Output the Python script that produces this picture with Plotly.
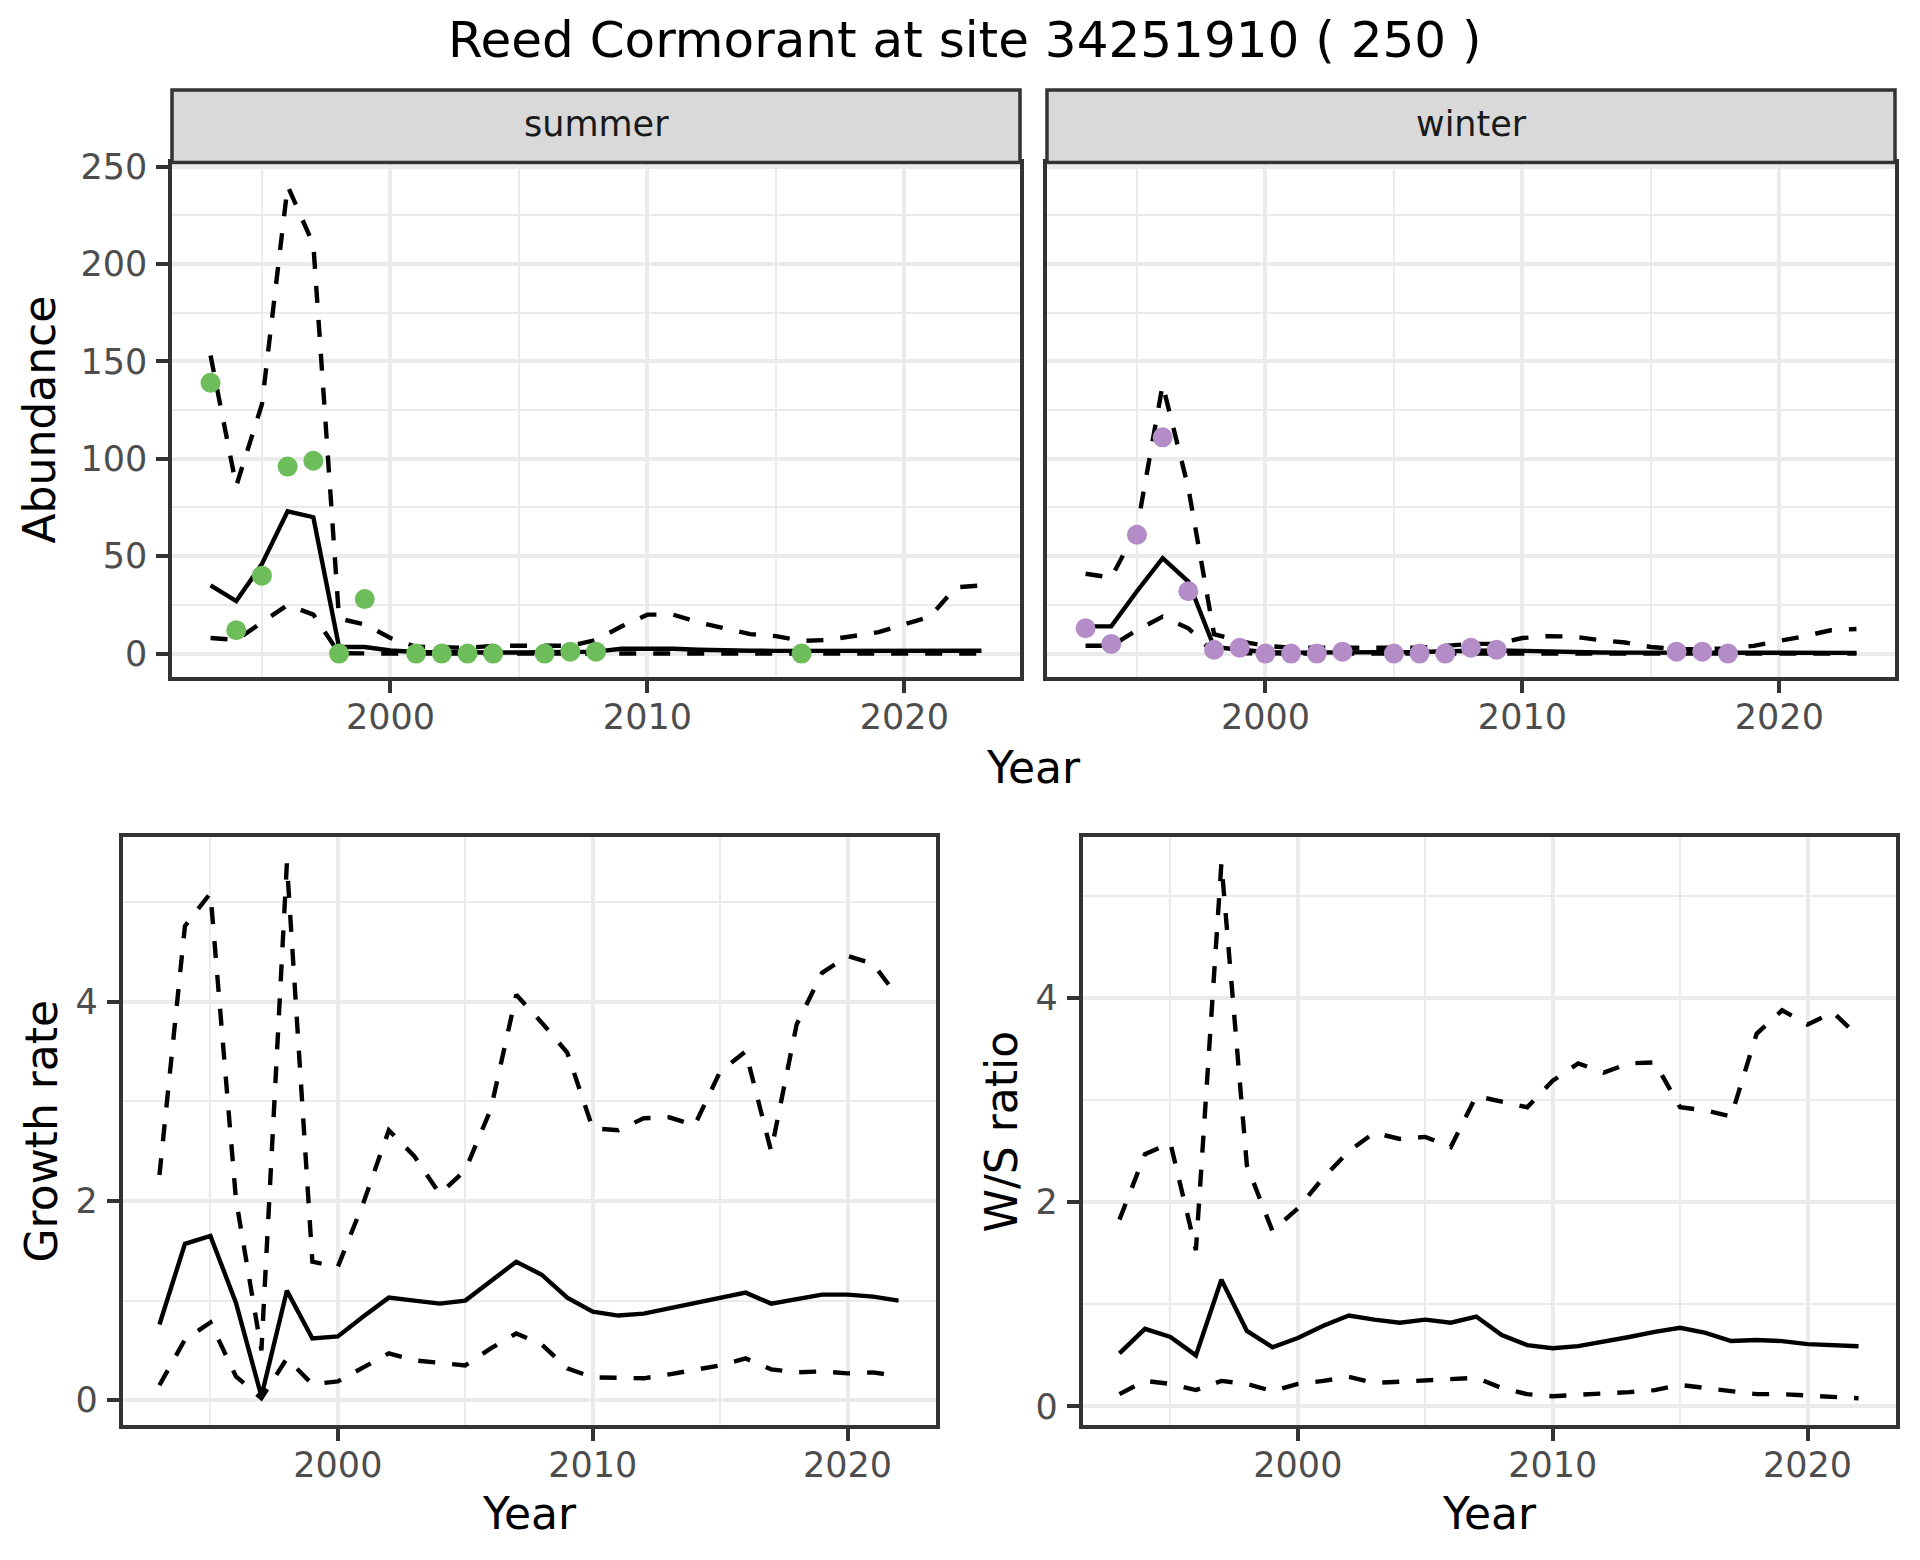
import plotly.graph_objects as go

W, H = 1920, 1560

# ---------------- data ----------------
season_years = list(range(1993, 2024))
summer_mean = [35, 27, 46, 73, 70, 3.4, 3.4, 1.6, 0.8, 0.6, 0.6, 0.6, 0.6, 0.6, 0.7, 1.0,
               2.5, 2.7, 2.5, 2.0, 1.6, 1.5, 1.4, 1.4, 1.4, 1.4, 1.4, 1.4, 1.5, 1.5, 1.5]
summer_upper = [153, 86, 128, 240, 210, 18, 15, 8, 3.5, 3, 3, 4, 4, 3.5, 4, 7,
                14, 20, 20, 16, 13, 10, 9, 6.5, 7, 9, 11, 15, 19, 34, 35]
summer_lower = [8, 7, 16, 25, 20, 0.2, 0.1, 0.1, 0, 0, 0, 0, 0, 0, 0, 0,
                0, 0, 0, 0, 0, 0, 0, 0, 0, 0, 0, 0, 0, 0, 0]
winter_mean = [14, 14, 32, 49, 37, 3.4, 2, 0.8, 0.5, 0.5, 0.5, 0.5, 0.6, 0.8, 1.2, 1.6,
               1.6, 1.4, 1.0, 0.8, 0.6, 0.5, 0.5, 0.5, 0.5, 0.5, 0.4, 0.4, 0.4, 0.4, 0.4]
winter_upper = [41, 39, 64, 138, 85, 10, 6.4, 4, 3, 3, 3, 3, 3, 3, 4, 5,
                5, 8, 9, 8.7, 7, 5.7, 3.4, 2.3, 2.3, 2.7, 4, 6.4, 9, 12, 12.6]
winter_lower = [4, 4, 12, 19, 13, 0.3, 0.2, 0, 0, 0, 0, 0, 0, 0, 0, 0,
                0, 0, 0, 0, 0, 0, 0, 0, 0, 0, 0, 0, 0, 0, 0]

summer_obs_years = [1993, 1994, 1995, 1996, 1997, 1998, 1999, 2001, 2002, 2003, 2004,
                    2006, 2007, 2008, 2016]
summer_obs = [139, 12, 40, 96, 99, 0, 28, 0, 0, 0, 0, 0, 1, 1, 0]
winter_obs_years = [1993, 1994, 1995, 1996, 1997, 1998, 1999, 2000, 2001, 2002, 2003,
                    2005, 2006, 2007, 2008, 2009, 2016, 2017, 2018]
winter_obs = [13, 5, 61, 111, 32, 2, 3, 0, 0, 0, 1, 0, 0, 0, 3, 2, 1, 1, 0]

trend_years = list(range(1993, 2023))
growth_mean = [0.76, 1.57, 1.65, 0.98, 0.04, 1.10, 0.62, 0.64, 0.84, 1.03, 1.00, 0.97,
               1.00, 1.19, 1.39, 1.26, 1.03, 0.89, 0.85, 0.87, 0.92, 0.97, 1.03, 1.08,
               0.97, 1.01, 1.06, 1.06, 1.04, 1.00]
growth_upper = [2.26, 4.76, 5.09, 2.02, 0.50, 5.39, 1.39, 1.34, 1.98, 2.71, 2.45, 2.07,
                2.31, 2.92, 4.07, 3.79, 3.49, 2.73, 2.71, 2.83, 2.84, 2.76, 3.30, 3.50,
                2.50, 3.77, 4.29, 4.46, 4.38, 4.04]
growth_lower = [0.15, 0.61, 0.78, 0.24, 0.02, 0.42, 0.16, 0.19, 0.33, 0.47, 0.40, 0.38,
                0.35, 0.52, 0.67, 0.56, 0.32, 0.23, 0.22, 0.22, 0.26, 0.31, 0.35, 0.42,
                0.31, 0.28, 0.29, 0.27, 0.28, 0.24]
ratio_mean = [0.52, 0.76, 0.68, 0.50, 1.24, 0.74, 0.58, 0.67, 0.79, 0.89, 0.85, 0.82,
              0.85, 0.82, 0.88, 0.70, 0.60, 0.57, 0.59, 0.63, 0.68, 0.73, 0.77, 0.72,
              0.64, 0.65, 0.64, 0.61, 0.60, 0.59]
ratio_upper = [1.83, 2.47, 2.58, 1.53, 5.32, 2.36, 1.72, 1.94, 2.24, 2.50, 2.68, 2.62,
               2.64, 2.54, 3.04, 2.99, 2.93, 3.19, 3.36, 3.27, 3.36, 3.37, 2.93, 2.90,
               2.84, 3.65, 3.88, 3.74, 3.86, 3.62]
ratio_lower = [0.12, 0.25, 0.22, 0.16, 0.25, 0.22, 0.15, 0.22, 0.25, 0.29, 0.23, 0.24,
               0.25, 0.26, 0.28, 0.18, 0.12, 0.10, 0.11, 0.13, 0.14, 0.16, 0.21, 0.18,
               0.15, 0.12, 0.12, 0.11, 0.09, 0.08]

year_ticks = [2000, 2010, 2020]
abundance_ticks = [0, 50, 100, 150, 200, 250]
rate_ticks = [0, 2, 4]

title_text = "Reed Cormorant at site 34251910 ( 250 )"
facet_labels = ["summer", "winter"]

# ---------------- style ----------------
FONT = "DejaVu Sans"
LW = 4.4
DASH = "17px,17px"
GREEN = "#6DBD5A"
PURPLE = "#B48DC8"
GRID = "#EBEBEB"
BORDER = "#333333"
OFF = 8  # page body margin compensation (px)


def fx(p):
    return (p - OFF) / W


def fy(p):
    return 1 - (p - OFF) / H


def expand(vals, mult=0.05):
    lo, hi = min(vals), max(vals)
    pad = (hi - lo) * mult
    return [lo - pad, hi + pad]


fig = go.Figure()


def add_band(xs, mean, lower, upper, xa, ya):
    for vals, dash in ((lower, DASH), (upper, DASH), (mean, "solid")):
        fig.add_trace(go.Scatter(x=xs, y=vals, mode="lines", xaxis=xa, yaxis=ya,
                                 line=dict(color="black", width=LW, dash=dash),
                                 showlegend=False, hoverinfo="skip"))


add_band(season_years, summer_mean, summer_lower, summer_upper, "x", "y")
fig.add_trace(go.Scatter(x=summer_obs_years, y=summer_obs, mode="markers", xaxis="x", yaxis="y",
                         marker=dict(color=GREEN, size=20), showlegend=False))
add_band(season_years, winter_mean, winter_lower, winter_upper, "x2", "y2")
fig.add_trace(go.Scatter(x=winter_obs_years, y=winter_obs, mode="markers", xaxis="x2", yaxis="y2",
                         marker=dict(color=PURPLE, size=20), showlegend=False))
add_band(trend_years, growth_mean, growth_lower, growth_upper, "x3", "y3")
add_band(trend_years, ratio_mean, ratio_lower, ratio_upper, "x4", "y4")

season_range = expand(season_years)
trend_range = expand(trend_years)
abund_range = expand(summer_mean + summer_upper + summer_lower + summer_obs +
                     winter_mean + winter_upper + winter_lower + winter_obs)
growth_range = expand(growth_mean + growth_upper + growth_lower)
ratio_range = expand(ratio_mean + ratio_upper + ratio_lower)


def xaxis(domain, rng, anchor):
    return dict(domain=domain, range=rng, anchor=anchor, tickvals=year_ticks,
                automargin=False,
                showgrid=True, gridcolor=GRID, gridwidth=LW, zeroline=False,
                minor=dict(tick0=1995, dtick=10, showgrid=True, gridcolor=GRID, gridwidth=LW / 2),
                ticks="outside", ticklen=12, tickwidth=LW, tickcolor=BORDER,
                tickfont=dict(family=FONT, size=35, color="#4D4D4D"),
                showline=True, mirror=True, linecolor=BORDER, linewidth=3.5,
                ticklabelstandoff=-6)


def yaxis(domain, rng, anchor, tickvals, minor0, minordt, labels=True):
    return dict(domain=domain, range=rng, anchor=anchor, tickvals=tickvals,
                automargin=False,
                showgrid=True, gridcolor=GRID, gridwidth=LW, zeroline=False,
                minor=dict(tick0=minor0, dtick=minordt, showgrid=True, gridcolor=GRID, gridwidth=LW / 2),
                ticks="outside" if labels else "", ticklen=12, tickwidth=LW, tickcolor=BORDER,
                showticklabels=labels,
                tickfont=dict(family=FONT, size=35, color="#4D4D4D"),
                showline=True, mirror=True, linecolor=BORDER, linewidth=3.5,
                ticklabelstandoff=2)


top_dom = [fy(677), fy(162.6)]
bot_dom = [fy(1425), fy(836.5)]

fig.update_layout(
    width=W, height=H, margin=dict(l=0, r=0, t=0, b=0, autoexpand=False),
    paper_bgcolor="white", plot_bgcolor="white",
    font=dict(family=FONT),
    xaxis=xaxis([fx(172), fx(1020)], season_range, "y"),
    xaxis2=xaxis([fx(1047), fx(1895)], season_range, "y2"),
    xaxis3=xaxis([fx(122.5), fx(935.5)], trend_range, "y3"),
    xaxis4=xaxis([fx(1082.5), fx(1895.5)], trend_range, "y4"),
    yaxis=yaxis(top_dom, abund_range, "x", abundance_ticks, 25, 50),
    yaxis2=yaxis(top_dom, abund_range, "x2", abundance_ticks, 25, 50, labels=False),
    yaxis3=yaxis(bot_dom, growth_range, "x3", rate_ticks, 1, 2),
    yaxis4=yaxis(bot_dom, ratio_range, "x4", rate_ticks, 1, 2),
)

shapes = []
annotations = []
for (x0, x1), lab in zip(((172, 1020), (1047, 1895)), facet_labels):
    shapes.append(dict(type="rect", xref="paper", yref="paper", x0=fx(x0), x1=fx(x1),
                       y0=fy(162.6), y1=fy(90), fillcolor="#D9D9D9",
                       line=dict(color=BORDER, width=3.5), layer="above"))
    annotations.append(dict(text=lab, xref="paper", yref="paper", x=fx((x0 + x1) / 2), y=fy(124),
                            xanchor="center", yanchor="middle", showarrow=False,
                            font=dict(family=FONT, size=35, color="#1A1A1A")))

annotations.append(dict(text=title_text, xref="paper", yref="paper", x=fx(964), y=fy(40),
                        xanchor="center", yanchor="middle", showarrow=False,
                        font=dict(family=FONT, size=50, color="black")))
for txt, x, y in (("Year", 1033.5, 767), ("Year", 529, 1513), ("Year", 1489, 1513)):
    annotations.append(dict(text=txt, xref="paper", yref="paper", x=fx(x), y=fy(y),
                            xanchor="center", yanchor="middle", showarrow=False,
                            font=dict(family=FONT, size=44, color="black")))
for txt, x, y in (("Abundance", 39.5, 420), ("Growth rate", 40.5, 1131), ("W/S ratio", 1000.5, 1132)):
    annotations.append(dict(text=txt, xref="paper", yref="paper", x=fx(x), y=fy(y),
                            xanchor="center", yanchor="middle", showarrow=False, textangle=-90,
                            font=dict(family=FONT, size=44, color="black")))

fig.update_layout(shapes=shapes, annotations=annotations)
fig.write_html("out.html")
